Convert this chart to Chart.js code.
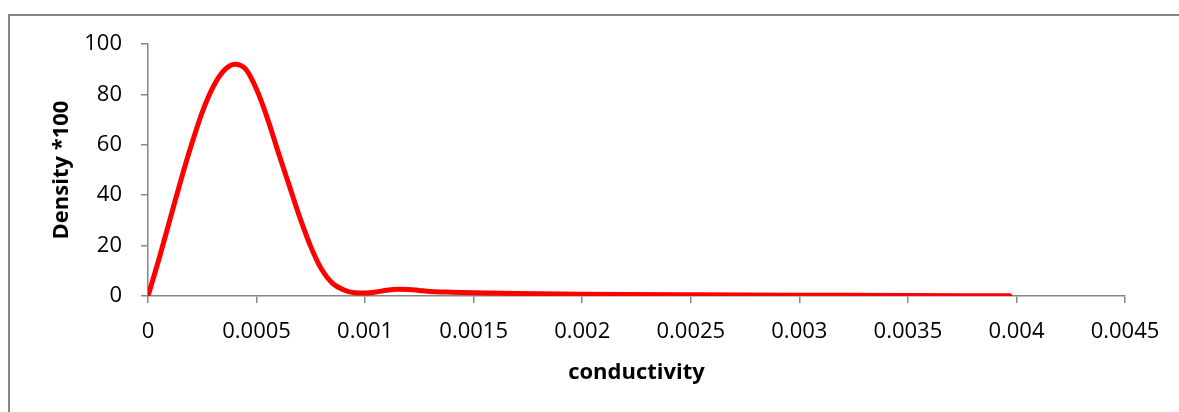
<!DOCTYPE html>
<html>
<head>
<meta charset="utf-8">
<script src="https://cdn.jsdelivr.net/npm/chart.js@4.4.1/dist/chart.umd.min.js"></script>
<style>
  html, body { margin: 0; padding: 0; background: #ffffff; overflow: hidden; }
  #wrap { position: relative; width: 1179px; height: 412px; background: #ffffff; }
  #frame { position: absolute; left: 8px; top: 14px; width: 1300px; height: 500px;
           border-top: 2px solid #868686; border-left: 2px solid #868686; box-sizing: border-box; }
  #c { position: absolute; left: 0; top: 0; }
</style>
</head>
<body>
<div id="wrap">
  <div id="frame"></div>
  <canvas id="c" width="1179" height="412"></canvas>
</div>
<script>
// ---- data ----
const conductivity = [0, 0.00005, 0.0001, 0.00015, 0.0002, 0.00025, 0.0003, 0.00035, 0.0004, 0.00045,
  0.0005, 0.00055, 0.0006, 0.00065, 0.0007, 0.00075, 0.0008, 0.00085, 0.0009, 0.00095,
  0.001, 0.00105, 0.0011, 0.00115, 0.0012, 0.00125, 0.0013, 0.0014, 0.0015, 0.0017,
  0.002, 0.0025, 0.003, 0.0035, 0.00397];
const density100 = [0, 14.5, 30, 45.5, 60, 73, 83, 89.5, 92, 90,
  82, 70.5, 57, 44, 31, 19.5, 10.5, 5, 2.5, 1.3,
  1.2, 1.6, 2.3, 2.7, 2.6, 2.2, 1.8, 1.5, 1.3, 1.0,
  0.7, 0.45, 0.3, 0.2, 0.1];
const xTickValues = [0, 0.0005, 0.001, 0.0015, 0.002, 0.0025, 0.003, 0.0035, 0.004, 0.0045];
const xTickLabels = ['0', '0.0005', '0.001', '0.0015', '0.002', '0.0025', '0.003', '0.0035', '0.004', '0.0045'];
const yTickValues = [0, 20, 40, 60, 80, 100];
const yTickLabels = ['0', '20', '40', '60', '80', '100'];
const xTitle = 'conductivity';
const yTitle = 'Density *100';

const points = conductivity.map((x, i) => ({ x: x, y: density100[i] }));
const axisColor = '#868686';
const tickFont = { family: "'Open Sans', sans-serif", size: 22 };
const titleFont = { family: "'Open Sans', sans-serif", size: 22, weight: 'bold' };

new Chart(document.getElementById('c'), {
  type: 'scatter',
  data: {
    datasets: [{
      data: points,
      showLine: true,
      borderColor: '#ff0000',
      borderWidth: 5,
      pointRadius: 0,
      pointHoverRadius: 0,
      fill: false,
      cubicInterpolationMode: 'monotone',
      borderCapStyle: 'round',
      borderJoinStyle: 'round'
    }]
  },
  options: {
    responsive: false,
    animation: false,
    events: [],
    layout: { padding: { top: 44, right: 54, left: 0, bottom: 0 } },
    plugins: { legend: { display: false }, tooltip: { enabled: false } },
    scales: {
      x: {
        type: 'linear',
        min: 0, max: 0.0045,
        afterFit: s => { s.height = 116; },
        afterBuildTicks: s => { s.ticks = xTickValues.map(v => ({ value: v })); },
        ticks: {
          color: '#000000', font: tickFont, padding: 16, maxRotation: 0, autoSkip: false,
          callback: (v, i) => xTickLabels[i]
        },
        grid: { drawOnChartArea: false, drawTicks: true, tickLength: 7, color: axisColor, lineWidth: 1.5 },
        border: { color: axisColor, width: 1.5 },
        title: { display: true, text: xTitle, color: '#000000', font: titleFont, padding: { top: 26, bottom: 26 } }
      },
      y: {
        type: 'linear',
        min: 0, max: 100,
        afterFit: s => { s.width = 148; },
        afterBuildTicks: s => { s.ticks = yTickValues.map(v => ({ value: v })); },
        ticks: {
          color: '#000000', font: tickFont, padding: 19,
          callback: (v, i) => yTickLabels[i]
        },
        grid: { drawOnChartArea: false, drawTicks: true, tickLength: 7, color: axisColor, lineWidth: 1.5 },
        border: { color: axisColor, width: 1.5 },
        title: { display: true, text: yTitle, color: '#000000', font: titleFont, padding: { top: 49, bottom: 0 } }
      }
    }
  }
});
</script>
</body>
</html>
